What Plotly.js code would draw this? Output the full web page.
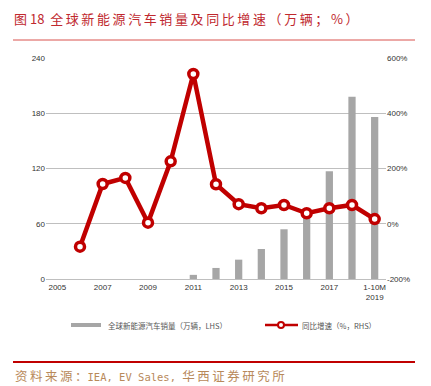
<!DOCTYPE html>
<html><head><meta charset="utf-8">
<script src="https://cdn.plot.ly/plotly-3.0.1.min.js"></script>
<style>html,body{margin:0;padding:0;background:#fff}#c{width:431px;height:386px}</style>
</head><body><div id="c"></div>
<script>
const categories = ['2005','2006','2007','2008','2009','2010','2011','2012','2013','2014','2015','2016','2017','2018','1-10M 2019'];
const salesValues = [0,0,0,0,0,0,4.5,12,21,32.6,54,74,117,198,176];
const growthValues = [null,-83,144,166,4,226,542,143,71,56,68,38,56,68,17];
const tickCats = ['2005','2007','2009','2011','2013','2015','2017','1-10M 2019'];
const tickLabels = ['2005','2007','2009','2011','2013','2015','2017','1-10M<br>2019'];
const leftTicks = [0,60,120,180,240];
const rightTicks = [-200,0,200,400,600];
const rightTickLabels = ['-200%','0%','200%','400%','600%'];

const red = '#C00000';
const TS = '\u2009';
const NB = '\u00A0';
const spaced = s => Array.from(s).join(TS);
const cjk = s => '<span style="font-family:\'Noto Sans CJK SC\'">' + spaced(s) + '</span>';
const mono = s => '<span style="font-family:\'DejaVu Sans Mono\';font-size:10.5px">' + s.replace(/ /g, NB) + '</span>';

const traces = [
  {type:'bar', x:categories, y:salesValues, marker:{color:'#A6A6A6'}, width:0.32, yaxis:'y', name:'全球新能源汽车销量（万辆，LHS）', hoverinfo:'skip'},
  {type:'scatter', mode:'lines+markers', x:categories, y:growthValues, yaxis:'y2', line:{color:red,width:4.5}, marker:{symbol:'circle',size:9,color:'#fff',line:{color:red,width:3.5}}, name:'同比增速（%，RHS）', connectgaps:false}
];
const tickFont = {family:'Arial, Liberation Sans, sans-serif', size:8, color:'#333'};
const layout = {
  width:431, height:386,
  margin:{l:46, r:45, t:58, b:107},
  paper_bgcolor:'#fff', plot_bgcolor:'#fff',
  showlegend:false,
  title:{text:'图'+NB+'18'+NB+NB+spaced('全球新能源汽车销量及同比增速（万辆；%）'), x:14/431, xanchor:'left', xref:'container', y:1-19/386, yanchor:'middle', yref:'container', font:{family:'Noto Sans CJK SC', size:13, color:'#C0282E'}},
  xaxis:{type:'category', categoryorder:'array', categoryarray:categories, tickvals:tickCats, ticktext:tickLabels, tickfont:tickFont, showgrid:false, showline:true, linecolor:'#BFBFBF', linewidth:1, ticks:'', zeroline:false, range:[-0.5,14.5], fixedrange:true},
  yaxis:{range:[0,240], tickvals:leftTicks, tickfont:tickFont, gridcolor:'#BFBFBF', gridwidth:1, showline:false, zeroline:false, ticks:'', ticklen:0, side:'left'},
  yaxis2:{range:[-200,600], tickvals:rightTicks, ticktext:rightTickLabels, tickfont:tickFont, overlaying:'y', side:'right', showgrid:false, zeroline:false, showline:false, ticks:''},
  shapes:[
    {type:'line', xref:'paper', yref:'paper', x0:(13-46)/340, x1:(415-46)/340, y0:(279-40)/221, y1:(279-40)/221, line:{color:'#D9534F', width:1}},
    {type:'line', xref:'paper', yref:'paper', x0:(13-46)/340, x1:(415-46)/340, y0:(279-362)/221, y1:(279-362)/221, line:{color:red, width:2}},
    {type:'rect', xref:'paper', yref:'paper', x0:(71-46)/340, x1:(101-46)/340, y0:(279-327)/221, y1:(279-323)/221, fillcolor:'#A6A6A6', line:{width:0}},
    {type:'line', xref:'paper', yref:'paper', x0:(265-46)/340, x1:(298-46)/340, y0:(279-325)/221, y1:(279-325)/221, line:{color:red, width:2.5}},
    {type:'circle', xref:'paper', yref:'paper', x0:(278-46)/340, x1:(284-46)/340, y0:(279-328)/221, y1:(279-322)/221, fillcolor:'#fff', line:{color:red, width:2}}
  ],
  annotations:[
    {xref:'paper', yref:'paper', x:(106-46)/340, y:(279-325)/221, xanchor:'left', yanchor:'middle', showarrow:false, text:'全球新能源汽车销量（万辆，LHS）', font:{family:'Noto Sans CJK SC', size:7.5, color:'#555'}},
    {xref:'paper', yref:'paper', x:(300-46)/340, y:(279-325)/221, xanchor:'left', yanchor:'middle', showarrow:false, text:'同比增速（%，RHS）', font:{family:'Noto Sans CJK SC', size:7.5, color:'#555'}},
    {xref:'paper', yref:'paper', x:(13-46)/340, y:(279-375)/221, xanchor:'left', yanchor:'middle', showarrow:false, text:cjk('资料来源：')+mono('IEA, EV Sales, ')+cjk('华西证券研究所'), font:{family:'Noto Sans CJK SC', size:12.5, color:'#B8895A'}}
  ]
};
Plotly.newPlot('c', traces, layout, {displayModeBar:false, staticPlot:true});
</script></body></html>
